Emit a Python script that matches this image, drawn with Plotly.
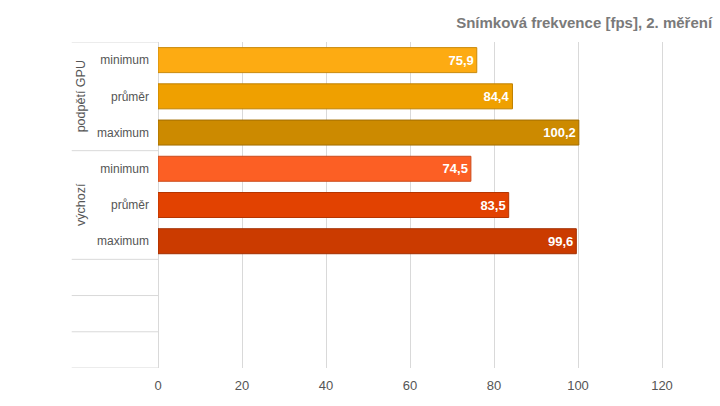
import plotly.graph_objects as go

groups = ["podpětí GPU", "podpětí GPU", "podpětí GPU", "výchozí", "výchozí", "výchozí"]
categories = ["minimum", "průměr", "maximum", "minimum", "průměr", "maximum"]
values = [75.9, 84.4, 100.2, 74.5, 83.5, 99.6]
labels = ["75,9", "84,4", "100,2", "74,5", "83,5", "99,6"]
colors = ["#FDAB12", "#EFA000", "#CC8A00", "#FC5F24", "#E24201", "#CB3B00"]
borders = ["#C98A0C", "#BF8000", "#A36E00", "#CC4C1C", "#B53501", "#A22F00"]
group_names = ["podpětí GPU", "výchozí"]
n_slots = 9
x_ticks = [0, 20, 40, 60, 80, 100, 120]

pos = list(range(len(values)))

fig = go.Figure()
fig.add_trace(go.Bar(
    x=values, y=pos, orientation="h",
    marker=dict(color=colors, line=dict(color=borders, width=1)),
    width=0.69,
    text=labels, texttemplate="<b>%{text}</b>",
    textposition="inside", insidetextanchor="end",
    textfont=dict(family="Liberation Sans, Arial", size=13, color="white"),
    hoverinfo="skip",
))

# left-hand label region lines at slot boundaries (group boundaries + empty slots)
boundaries = [-0.5, 2.5, 5.5, 6.5, 7.5, 8.5]
for b in boundaries:
    fig.add_shape(type="line", xref="paper", yref="y", x0=-0.158, x1=0, y0=b, y1=b,
                  line=dict(color="#D9D9D9", width=1), layer="below")

# group labels
for gi, g in enumerate(group_names):
    idx = [i for i, gg in enumerate(groups) if gg == g]
    center = sum(idx) / len(idx)
    fig.add_annotation(text=g, xref="paper", yref="y", x=-0.141, y=center,
                       xanchor="center", yanchor="middle",
                       textangle=-90, showarrow=False,
                       font=dict(family="Liberation Sans, Arial", size=12.5, color="#555555"))

fig.update_layout(
    width=720, height=406,
    margin=dict(l=158, r=16, t=42, b=38),
    paper_bgcolor="white", plot_bgcolor="white",
    separators=", ",
    showlegend=False,
    title=dict(text="<b>Snímková frekvence [fps], 2. měření</b>",
               x=0.989, xanchor="right", xref="container", y=0.945, yanchor="middle",
               font=dict(family="Liberation Sans, Arial", size=15, color="#7A7A7A")),
    xaxis=dict(range=[0, 130], tickvals=x_ticks, ticktext=[str(t) for t in x_ticks],
               showgrid=True, gridcolor="#D9D9D9", gridwidth=1,
               zeroline=True, zerolinecolor="#D9D9D9", zerolinewidth=1,
               showline=False, ticks="", ticklabelstandoff=8,
               tickfont=dict(family="Liberation Sans, Arial", size=13, color="#555555"),
               fixedrange=True),
    yaxis=dict(range=[n_slots - 0.5, -0.5], tickvals=pos, ticktext=categories,
               showgrid=False, zeroline=False, showline=False, ticks="",
               ticklabelstandoff=8,
               tickfont=dict(family="Liberation Sans, Arial", size=12, color="#555555"),
               fixedrange=True),
    bargap=0.31,
)

fig.write_html("out.html")
